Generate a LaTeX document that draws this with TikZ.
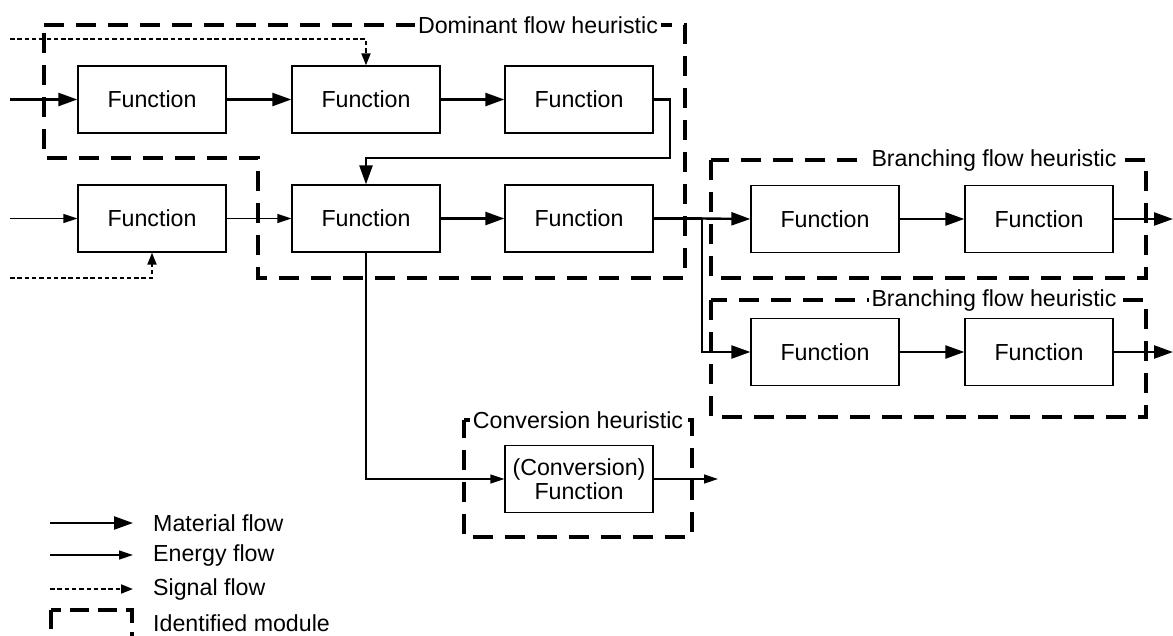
\documentclass[tikz,border=0pt]{standalone}
\usepackage{fontspec}
\setmainfont{Liberation Sans}
\usetikzlibrary{arrows.meta}
\begin{document}
\begin{tikzpicture}[x=1pt,y=-1pt,
  fn/.style={draw,line width=1.3pt,minimum width=148pt,minimum height=67pt,inner sep=0pt,
    font=\fontsize{23.2}{27}\selectfont,align=center},
  matflow/.style={line width=2.4pt,-{Triangle[length=19pt,width=13pt]}},
  matline/.style={line width=2.4pt},
  enflow/.style={line width=1.3pt,-{Triangle[length=14pt,width=9pt]}},
  enline/.style={line width=1.3pt},
  sigflow/.style={line width=1.9pt,dash pattern=on 4.5pt off 2.8pt,-{Triangle[length=12pt,width=9pt]}},
  module/.style={line width=3.4pt,dash pattern=on 20pt off 12pt,line join=miter},
  modlabel/.style={fill=white,inner sep=3pt,font=\fontsize{23.2}{27}\selectfont},
  legtext/.style={anchor=west,inner sep=0pt,font=\fontsize{23.2}{27}\selectfont}]
\useasboundingbox (0,0) rectangle (1173,635);
% modules
\draw[module] (44,25) -- (685,25) -- (685,278) -- (258,278) -- (258,158) -- (44,158) -- cycle;
\draw[module] (711,160) rectangle (1146,278);
\draw[module] (711,300) rectangle (1146,417);
\draw[module] (464,420) -- (692,420) -- (692,537) -- (464,537) -- cycle;
\node[modlabel] (lDom) at (538,25) {Dominant flow heuristic};
\node[modlabel] (lBr1) at (994,160) {Branching flow heuristic};
\node[modlabel] (lBr2) at (994,300) {Branching flow heuristic};
\node[modlabel] (lConv) at (578,420) {Conversion heuristic};
% functions
\node[fn] (b1) at (152,99.5) {Function};
\node[fn] (b2) at (366,99.5) {Function};
\node[fn] (b3) at (579,99.5) {Function};
\node[fn] (b4) at (152,218.5) {Function};
\node[fn] (b5) at (366,218.5) {Function};
\node[fn] (b6) at (579,218.5) {Function};
\node[fn] (b7) at (825,219) {Function};
\node[fn] (b8) at (1039,219) {Function};
\node[fn] (b9) at (825,352) {Function};
\node[fn] (b10) at (1039,352) {Function};
\node[fn] (conv) at (579,479) {(Conversion)\\[-3pt]Function};
% free ends
\coordinate (in1) at (10,99.5);
\coordinate (sig1) at (10,39);
\coordinate (in4) at (10,218.5);
\coordinate (sig4) at (10,278);
\coordinate (out8) at (1173,219);
\coordinate (out10) at (1173,352);
\coordinate (outc) at (718,479);
\coordinate (split) at (702,218.5);
% row 1
\draw[matflow] (in1) -- (b1);
\draw[sigflow] (sig1) -| (b2.north);
\draw[matflow] (b1) -- (b2);
\draw[matflow] (b2) -- (b3);
\draw[matflow] (b3.east) -- (670,99.5) -- (670,158) -| (b5.north);
% row 2
\draw[enflow] (in4) -- (b4);
\draw[sigflow] (sig4) -| (b4.south);
\draw[enflow] (b4) -- (b5);
\draw[matflow] (b5) -- (b6);
\draw[matline] (b6.east) -- (split);
\draw[matflow] (split) -- (b7.west);
\draw[matflow] (split) |- (b9.west);
\draw[matflow] (b7) -- (b8);
\draw[matflow] (b8) -- (out8);
\draw[matflow] (b9) -- (b10);
\draw[matflow] (b10) -- (out10);
% conversion
\draw[enflow] (b5.south) |- (conv.west);
\draw[enflow] (conv.east) -- (outc);
% legend
\coordinate (l1a) at (50,523); \coordinate (l1b) at (133,523);
\coordinate (l2a) at (50,555); \coordinate (l2b) at (133,555);
\coordinate (l3a) at (50,589); \coordinate (l3b) at (133,589);
\draw[matflow] (l1a) -- (l1b);
\draw[enflow] (l2a) -- (l2b);
\draw[sigflow] (l3a) -- (l3b);
\begin{scope}
\clip (0,0) rectangle (1173,635);
\draw[module,dash pattern=on 19pt off 9pt] (51,610) rectangle (132,660);
\end{scope}
\node[legtext] (t1) at (153,523) {Material flow};
\node[legtext] (t2) at (153,555) {Energy flow};
\node[legtext] (t3) at (153,589) {Signal flow};
\node[legtext] (t4) at (153,623) {Identified module};
\end{tikzpicture}
\end{document}
